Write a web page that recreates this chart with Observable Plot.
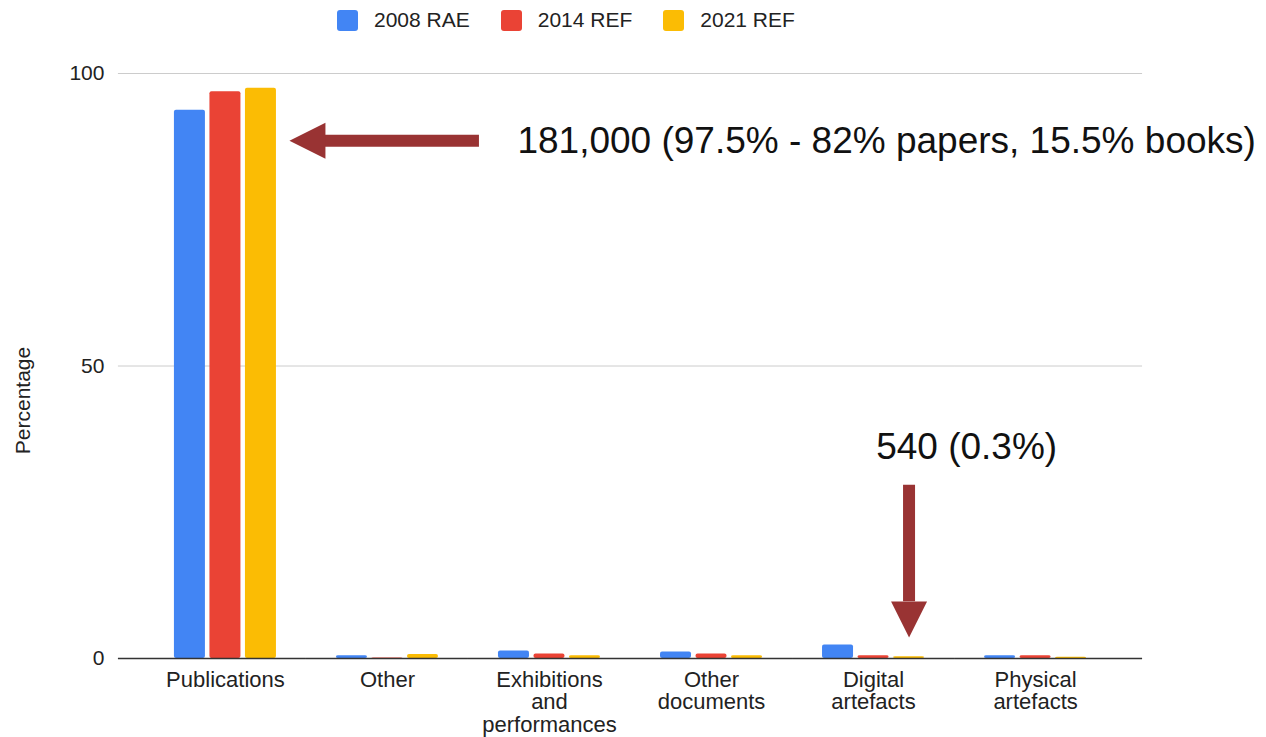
<!DOCTYPE html>
<html><head><meta charset="utf-8">
<script src="https://cdn.jsdelivr.net/npm/d3@7"></script>
<script src="https://cdn.jsdelivr.net/npm/@observablehq/plot@0.6"></script>
<style>
body{margin:0;background:#fff;font-family:"Liberation Sans",Arial,sans-serif;}
#legend{height:40px;padding-left:337px;box-sizing:border-box;}
.lg-swatches{margin:0 !important;font-family:"Liberation Sans",Arial,sans-serif !important;font-size:21px !important;color:#222;}
.lg-swatches-wrap{min-height:40px !important;}
.lg-swatch{margin-right:31px !important;}
.lg-swatch > svg{margin-right:16px !important;}
.lg-swatch rect{rx:3px;}
</style></head><body>
<div id="legend"></div><div id="chart"></div>
<script>
// ---- data ----
const categories = ["Publications","Other","Exhibitions and performances","Other documents","Digital artefacts","Physical artefacts"];
const categoryLabels = ["Publications","Other","Exhibitions\nand\nperformances","Other\ndocuments","Digital\nartefacts","Physical\nartefacts"];
const series = ["2008 RAE","2014 REF","2021 REF"];
const rae2008 = [93.7, 0.45, 1.3, 1.1, 2.3, 0.45];
const ref2014 = [96.9, 0.1, 0.75, 0.75, 0.45, 0.45];
const ref2021 = [97.5, 0.7, 0.45, 0.45, 0.3, 0.2];
const colors = ["#4285F4","#EA4335","#FBBC04"];
const yTicks = [0, 50, 100];
const yLabel = "Percentage";
const yLabelAt = 44.1;               // vertical position of the axis title, in percentage units
const noteTexts = ["181,000 (97.5% - 82% papers, 15.5% books)", "540 (0.3%)"];
const noteCategories = ["Publications", "Digital artefacts"];
const noteY = [88.5, 36.1];          // text anchors, in percentage units
const arrowLeftY = 88.5;             // horizontal arrow level
const arrowDownTipY = 3.6, arrowDownBaseY = 9.7, arrowDownTopY = 29.6;

// ---- tables built from the arrays ----
const values = [rae2008, ref2014, ref2021];
const table = [];
categories.forEach((c, i) => series.forEach((s, j) => table.push({category: c, series: s, value: values[j][i]})));
const labelTable = categories.map((c, i) => ({category: c, label: categoryLabels[i]}));
const notes = noteTexts.map((t, i) => ({category: noteCategories[i], series: "2021 REF", y: noteY[i], text: t}));
const arrowLeft = [{category: "Publications", series: "2021 REF", y: arrowLeftY}];
const arrowDown = [{category: "Digital artefacts", series: "2021 REF", tip: arrowDownTipY, base: arrowDownBaseY, top: arrowDownTopY}];
const yTitle = [{category: categories[0], y: yLabelAt, text: yLabel}];

// grid rows per facet so that neighbouring segments meet without overlapping
const gridFirst = [], gridMid = [], gridLast = [];
categories.forEach((c, i) => yTicks.forEach(t => {
  const row = {category: c, y: t};
  (i === 0 ? gridFirst : i === categories.length - 1 ? gridLast : gridMid).push(row);
}));

const arrowColor = "#993333";
const headDown = {draw(ctx){ ctx.moveTo(0,0); ctx.lineTo(-18,-36); ctx.lineTo(18,-36); ctx.closePath(); }};
const headLeft = {draw(ctx){ ctx.moveTo(0,0); ctx.lineTo(36,-18); ctx.lineTo(36,18); ctx.closePath(); }};

const legend = Plot.legend({
  color: {domain: series, range: colors},
  legend: "swatches", swatchSize: 21, className: "lg"
});
document.getElementById("legend").append(legend);

const ruleOpts = {fx: "category", y: "y", stroke: d => d.y === 0 ? "#333333" : "#cccccc", strokeWidth: d => d.y === 0 ? 1.5 : 1};

const chart = Plot.plot({
  width: 1266, height: 697,
  marginTop: 33, marginBottom: 79, marginLeft: 118, marginRight: 124,
  style: {fontFamily: '"Liberation Sans", Arial, sans-serif', fontSize: "21px", color: "#222", background: "#fff"},
  fx: {domain: categories, paddingInner: 0, paddingOuter: 0.16, round: false, axis: null, label: null},
  x: {domain: series, paddingInner: 0.127, paddingOuter: 0.845, round: false, axis: null},
  y: {domain: [0, 100], axis: null},
  color: {domain: series, range: colors},
  marks: [
    Plot.axisY({ticks: yTicks, tickSize: 0, tickPadding: 40, label: null, fontSize: 21}),
    Plot.text(yTitle, {fx: "category", y: "y", text: "text", frameAnchor: "left", textAnchor: "middle", rotate: -90, dx: -121, fontSize: 21, fill: "#222"}),
    Plot.ruleY(gridFirst.filter(d => d.y > 0), {...ruleOpts, insetLeft: -26}),
    Plot.ruleY(gridMid.filter(d => d.y > 0), ruleOpts),
    Plot.ruleY(gridLast.filter(d => d.y > 0), {...ruleOpts, insetRight: -26}),
    Plot.barY(table, {fx: "category", x: "series", y: "value", fill: "series", rx: 2}),
    Plot.ruleY(gridFirst.filter(d => d.y === 0), {...ruleOpts, insetLeft: -26}),
    Plot.ruleY(gridMid.filter(d => d.y === 0), ruleOpts),
    Plot.ruleY(gridLast.filter(d => d.y === 0), {...ruleOpts, insetRight: -26}),
    Plot.text(labelTable, {fx: "category", text: "label", frameAnchor: "bottom", lineAnchor: "top", dy: 12, fontSize: 22, lineHeight: 1.03, fill: "#222"}),
    // horizontal arrow
    Plot.ruleY(arrowLeft, {fx: "category", y: "y", stroke: arrowColor, strokeWidth: 12, insetLeft: 178, insetRight: -173}),
    Plot.dot(arrowLeft, {fx: "category", x: "series", y: "y", symbol: headLeft, r: 1, fill: arrowColor, stroke: "none", dx: 28.5}),
    // vertical arrow
    Plot.ruleX(arrowDown, {fx: "category", x: "series", y1: "base", y2: "top", stroke: arrowColor, strokeWidth: 12}),
    Plot.dot(arrowDown, {fx: "category", x: "series", y: "tip", symbol: headDown, r: 1, fill: arrowColor, stroke: "none"}),
    // notes
    Plot.text(notes.slice(0, 1), {fx: "category", x: "series", y: "y", text: "text", textAnchor: "start", dx: 256.5, fontSize: 37, fill: "#111"}),
    Plot.text(notes.slice(1), {fx: "category", x: "series", y: "y", text: "text", textAnchor: "middle", dx: 57.6, fontSize: 37, fill: "#111"})
  ]
});
document.getElementById("chart").append(chart);
</script>
</body></html>
